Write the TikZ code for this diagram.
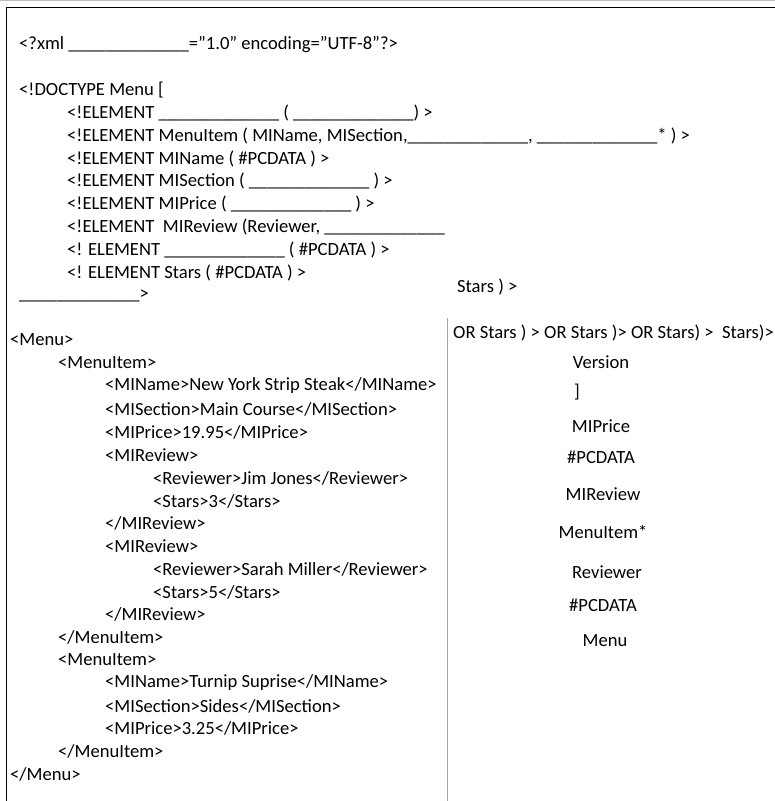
\documentclass[tikz,border=0pt]{standalone}
\usepackage{fontspec}
\setmainfont{Carlito}
\begin{document}
\begin{tikzpicture}[x=1pt,y=-1pt,every node/.style={inner sep=0pt,anchor=west,font=\fontsize{18.6}{20}\selectfont}]
\useasboundingbox (0,0) rectangle (775,801);
\draw[gray!50] (0,0.5) -- (775,0.5);
\draw[line width=0.8] (6,801) -- (6,7) -- (775,7);
\draw[gray!70] (447,318) -- (447,801);
\def\u{\_\_\_\_\_\_\_\_\_\_\_\_\_}
\def\q{\symbol{34}}
\node (a1) at (19,45) {<?xml \u=\q1.0\q{} encoding=\q UTF-8\q?>};
\node (a2) at (19,90) {<!DOCTYPE Menu [};
\node (a3) at (67,113) {<!ELEMENT \u\ ( \u) >};
\node (a4) at (67,136) {<!ELEMENT MenuItem ( MIName, MISection,\u, \u* ) >};
\node (a5) at (67,159) {<!ELEMENT MIName ( \#PCDATA ) >};
\node (a6) at (67,181) {<!ELEMENT MISection ( \u\ ) >};
\node (a7) at (67,204) {<!ELEMENT MIPrice ( \u\ ) >};
\node (a8) at (67,227) {<!ELEMENT \ MIReview (Reviewer, \u};
\node (a9) at (67,250) {<! ELEMENT \u\ ( \#PCDATA ) >};
\node (a10) at (67,273) {<! ELEMENT Stars ( \#PCDATA ) >};
\node (a11) at (19,296) {\u>};
\node (s1) at (457,287) {Stars ) >};
\node (s2) at (453,333) {OR Stars ) > OR Stars )> OR Stars) > \ Stars)>};
\foreach \t/\x/\y [count=\i] in {
 {<Menu>}/10/340, {<MenuItem>}/58/363,
 {<MIName>New York Strip Steak</MIName>}/105/386,
 {<MISection>Main Course</MISection>}/105/409,
 {<MIPrice>19.95</MIPrice>}/105/432,
 {<MIReview>}/105/455,
 {<Reviewer>Jim Jones</Reviewer>}/153/478,
 {<Stars>3</Stars>}/153/501,
 {</MIReview>}/105/523,
 {<MIReview>}/105/546,
 {<Reviewer>Sarah Miller</Reviewer>}/153/569,
 {<Stars>5</Stars>}/153/592,
 {</MIReview>}/105/614,
 {</MenuItem>}/58/637,
 {<MenuItem>}/58/660,
 {<MIName>Turnip Suprise</MIName>}/105/683,
 {<MISection>Sides</MISection>}/105/706,
 {<MIPrice>3.25</MIPrice>}/105/728,
 {</MenuItem>}/58/751,
 {</Menu>}/10/774}
 \node (b\i) at (\x,\y) {\t};
\foreach \t/\x/\y [count=\i] in {Version/601/362, ]/577/392, MIPrice/601/426, \#PCDATA/601/457, MIReview/603/494, MenuItem*/603/532, Reviewer/607/572, \#PCDATA/603/605, Menu/605/641}
 \node[anchor=center] (r\i) at (\x,\y) {\t};
\end{tikzpicture}
\end{document}
